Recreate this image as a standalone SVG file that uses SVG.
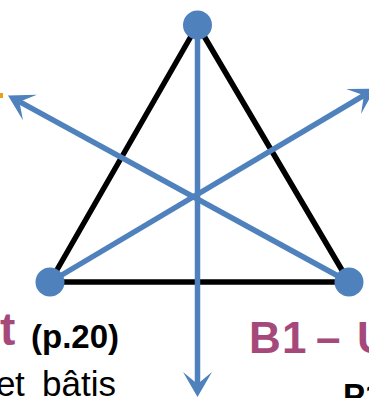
<svg xmlns="http://www.w3.org/2000/svg" width="369" height="398" viewBox="0 0 369 398">
  <style>
    .edge { stroke: #000000; stroke-width: 5.5; fill: none; stroke-linecap: round; }
    .arrow { stroke: #4F81BD; stroke-width: 5.5; fill: none; }
    .head { fill: #4F81BD; }
    .node { fill: #4F81BD; }
    .pink { font-family: "Liberation Sans", Arial, sans-serif; font-weight: bold; fill: #A5497B; }
    .bold { font-family: "Liberation Sans", Arial, sans-serif; font-weight: bold; fill: #000000; }
    .reg { font-family: "Liberation Sans", Arial, sans-serif; fill: #000000; }
  </style>
  <defs>
    <marker id="ah" markerUnits="userSpaceOnUse" viewBox="-12 -15 26 30" refX="0" refY="0" markerWidth="26" markerHeight="30" orient="auto" overflow="visible">
      <path class="head" d="M13,0 L-12,-14.5 L0,0 L-12,14.5 Z"/>
    </marker>
  </defs>
  <g id="triangle">
    <line class="edge" x1="197.5" y1="25" x2="50" y2="282"/>
    <line class="edge" x1="197.5" y1="25" x2="349" y2="282"/>
    <line class="edge" x1="50" y1="282" x2="349" y2="282"/>
  </g>
  <g id="connectors">
    <line class="arrow" x1="197.5" y1="25" x2="197.5" y2="384" marker-end="url(#ah)"/>
    <line class="arrow" x1="349" y1="282" x2="19.4" y2="101.7" marker-end="url(#ah)"/>
    <line class="arrow" x1="50" y1="282" x2="363.9" y2="95.3" marker-end="url(#ah)"/>
  </g>
  <g id="node-top"><circle class="node" cx="197.5" cy="25" r="14.5"/></g>
  <g id="node-left"><circle class="node" cx="50" cy="282" r="14.5"/></g>
  <g id="node-right"><circle class="node" cx="349" cy="282" r="14.5"/></g>
  <g id="orange-mark"><rect x="0" y="93" width="3" height="5" fill="#E8A21A"/></g>
  <g id="label-left">
    <text class="pink" x="0" y="345" font-size="46">t</text>
    <text class="bold" x="31" y="348" font-size="34" textLength="88" lengthAdjust="spacingAndGlyphs">(p.20)</text>
    <text class="reg" x="-4 15 25 42" y="396" font-size="35">et bâtis</text>
  </g>
  <g id="label-right">
    <text class="pink" y="353" font-size="44" x="249 282 303 316 343 357">B1 – U</text>
    <text class="bold" x="343" y="407" font-size="33">P1</text>
  </g>
</svg>
